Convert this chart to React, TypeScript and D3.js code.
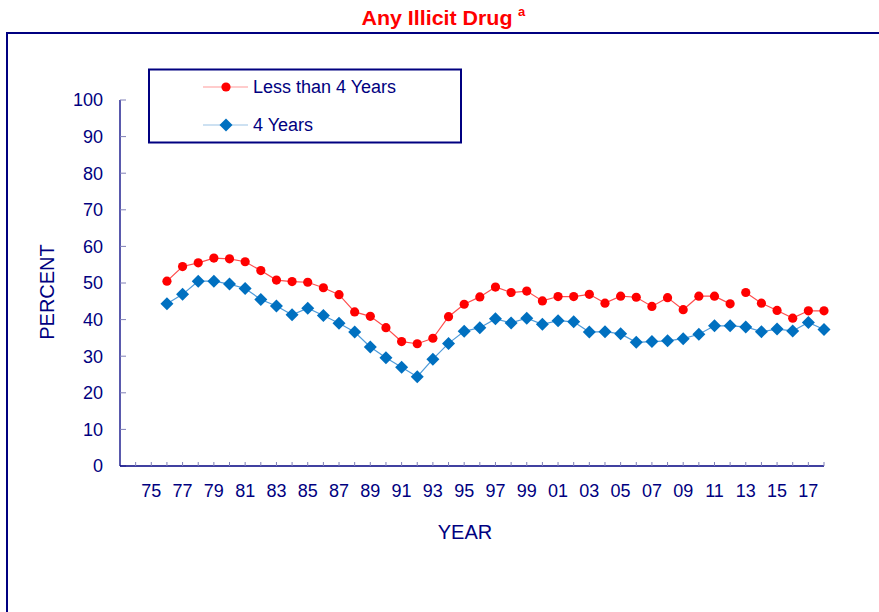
import { scaleLinear, line as d3_line, range } from "d3";

// years 1976..2018
const years = range(1976, 2019);

const lessThan4 = [
  50.5, 54.5, 55.5, 56.8, 56.6, 55.8, 53.4, 50.8, 50.4, 50.2,
  48.7, 46.8, 42.1, 40.9, 37.8, 34.0, 33.4, 34.9, 40.8, 44.2,
  46.2, 48.9, 47.4, 47.8, 45.1, 46.3, 46.3, 46.9, 44.5, 46.4,
  46.1, 43.6, 46.0, 42.7, 46.4, 46.4, 44.3, 47.4, 44.5, 42.5,
  40.4, 42.4, 42.4,
];

const fourYears = [
  44.3, 46.9, 50.5, 50.5, 49.7, 48.5, 45.5, 43.7, 41.3, 43.1,
  41.1, 39.0, 36.6, 32.5, 29.6, 27.0, 24.4, 29.2, 33.5, 36.8,
  37.8, 40.2, 39.1, 40.4, 38.7, 39.7, 39.4, 36.6, 36.7, 36.1,
  33.8, 34.0, 34.2, 34.8, 36.0, 38.3, 38.3, 38.0, 36.7, 37.4,
  36.9, 39.2, 37.3,
];

const yTicks = [0, 10, 20, 30, 40, 50, 60, 70, 80, 90, 100];
const xLabelYears = range(1975, 2018, 2);
const xTickYears = range(1974, 2019);
const breakYear = 2013; // red series not joined across this year

const NAVY = "#000080";
const FONT = "Arial, 'Liberation Sans', sans-serif";

export default function App() {
  const x = scaleLinear().domain([1973, 2018]).range([120, 824]);
  const y = scaleLinear().domain([0, 100]).range([466, 100]);

  const pts = (vals: number[]) => years.map((yr, i) => ({ yr, v: vals[i] }));
  const redPts = pts(lessThan4);
  const bluePts = pts(fourYears);

  const lineGen = d3_line<{ yr: number; v: number }>()
    .x((d) => x(d.yr))
    .y((d) => y(d.v));

  const redA = lineGen(redPts.filter((d) => d.yr < breakYear)) ?? "";
  const redB = lineGen(redPts.filter((d) => d.yr >= breakYear)) ?? "";
  const bluePath = lineGen(bluePts) ?? "";

  const diamond = (cx: number, cy: number, r: number) =>
    `M${cx},${cy - r}L${cx + r},${cy}L${cx},${cy + r}L${cx - r},${cy}Z`;

  return (
    <svg
      width={879}
      height={612}
      style={{ position: "absolute", left: 0, top: 0, background: "#fff" }}
      fontFamily={FONT}
    >
      <rect x={0} y={0} width={879} height={612} fill="#fff" />

      {/* title */}
      <text x={437} y={25} textAnchor="middle" fill="#ff0000" fontWeight="bold" fontSize={20} textLength={151} lengthAdjust="spacingAndGlyphs">
        Any Illicit Drug
      </text>
      <text x={518} y={16} fill="#ff0000" fontWeight="bold" fontSize={13}>a</text>

      {/* outer frame */}
      <rect x={7} y={33} width={900} height={600} fill="none" stroke={NAVY} strokeWidth={2} />

      {/* y axis */}
      <line x1={120} x2={120} y1={y(100)} y2={y(0)} stroke={NAVY} strokeWidth={1.3} />
      {yTicks.map((t) => (
        <g key={t}>
          <line x1={120} x2={126} y1={y(t)} y2={y(t)} stroke="#8080b8" strokeWidth={1} />
          <text x={103} y={y(t)} dy="0.35em" textAnchor="end" fontSize={18} fill={NAVY}>
            {t}
          </text>
        </g>
      ))}

      {/* x axis */}
      <line x1={120} x2={x(2018)} y1={y(0)} y2={y(0)} stroke={NAVY} strokeWidth={1.3} />
      {xTickYears.map((yr) => (
        <line key={yr} x1={x(yr)} x2={x(yr)} y1={y(0)} y2={y(0) - 4} stroke="#8080b8" strokeWidth={1} />
      ))}
      {xLabelYears.map((yr) => (
        <text key={yr} x={x(yr)} y={497} textAnchor="middle" fontSize={18} fill={NAVY}>
          {String(yr % 100).padStart(2, "0")}
        </text>
      ))}

      {/* axis titles */}
      <text x={465} y={539} textAnchor="middle" fontSize={20} fill={NAVY}>YEAR</text>
      <text
        transform={`translate(54,292) rotate(-90)`}
        textAnchor="middle"
        fontSize={20}
        fill={NAVY}
      >
        PERCENT
      </text>

      {/* series lines */}
      <path d={bluePath} fill="none" stroke="#4f9bd9" strokeWidth={1.2} />
      <path d={redA} fill="none" stroke="#ff4d4d" strokeWidth={1.2} />
      <path d={redB} fill="none" stroke="#ff4d4d" strokeWidth={1.2} />

      {/* markers */}
      {bluePts.map((d) => (
        <path key={`b${d.yr}`} d={diamond(x(d.yr), y(d.v), 6.5)} fill="#0070c0" />
      ))}
      {redPts.map((d) => (
        <circle key={`r${d.yr}`} cx={x(d.yr)} cy={y(d.v)} r={4.6} fill="#ff0000" />
      ))}

      {/* legend */}
      <rect x={149} y={69.5} width={312} height={73} fill="#fff" stroke={NAVY} strokeWidth={2} />
      <line x1={203} x2={248} y1={87} y2={87} stroke="#ff9a9a" strokeWidth={1.2} />
      <circle cx={226} cy={87} r={4.6} fill="#ff0000" />
      <text x={253} y={87} dy="0.35em" fontSize={18} fill={NAVY}>Less than 4 Years</text>
      <line x1={203} x2={248} y1={125} y2={125} stroke="#9cc3e6" strokeWidth={1.2} />
      <path d={diamond(226, 125, 6.5)} fill="#0070c0" />
      <text x={253} y={125} dy="0.35em" fontSize={18} fill={NAVY}>4 Years</text>
    </svg>
  );
}
